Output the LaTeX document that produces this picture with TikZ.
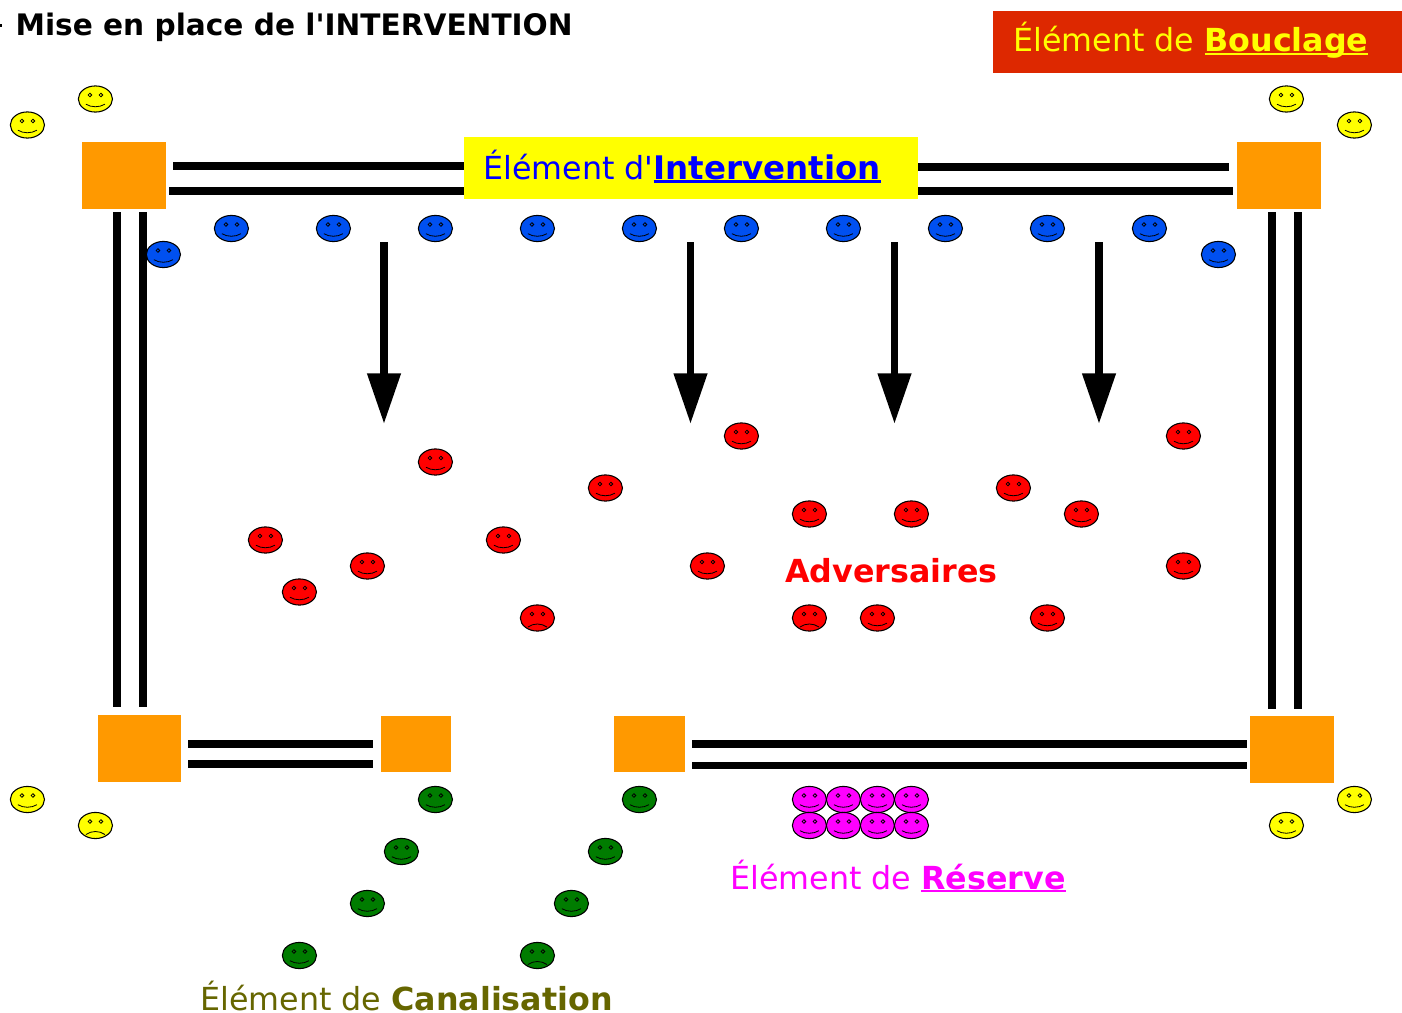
\documentclass[tikz,border=0pt]{standalone}
\usepackage{fontspec}
\newfontfamily\vera{DejaVu Sans}
\usetikzlibrary{shapes.geometric,arrows.meta}
\definecolor{orangebox}{RGB}{255,153,0}
\definecolor{redbox}{RGB}{221,40,0}
\definecolor{faceyellow}{RGB}{255,255,0}
\definecolor{facered}{RGB}{255,0,0}
\definecolor{faceblue}{RGB}{0,80,240}
\definecolor{facegreen}{RGB}{0,124,0}
\definecolor{facemagenta}{RGB}{255,0,255}
\definecolor{olivetext}{RGB}{102,102,0}
\definecolor{bluetext}{RGB}{0,0,255}
\newcommand\ulword[1]{\setbox0\hbox{#1}\rlap{\rule[-.105em]{\wd0}{.075em}}\box0}
\newcommand\fsz[1]{\fontsize{#1}{#1}\selectfont}
\newcommand\smiley[5]{%
  \node[facebody,fill=#4] (#1) at (#2+0.4,#3) {};
  \begin{scope}[shift={(#2+0.4,#3)}]
    \draw[facepart] (-5.5,-4) circle[radius=1.8];
    \draw[facepart] (5.5,-4) circle[radius=1.8];
    \ifx#5s
      \draw[facepart] (-9.5,5.2) .. controls (-4,8.6) and (4,8.6) .. (9.5,5.2);
    \else
      \draw[facepart] (-9.5,9) .. controls (-4,5) and (4,5) .. (9.5,9);
    \fi
  \end{scope}}
\begin{document}
\begin{tikzpicture}[x=0.75pt,y=-0.75pt,
  facebody/.style={shape=ellipse,draw=black,line width=0.8pt,minimum width=25.6pt,minimum height=19.6pt,inner sep=0pt},
  facepart/.style={draw=black,line width=0.6pt},
  barline/.style={draw=black,line width=5.7pt},
  downarrow/.style={draw=black,line width=5.7pt,-{Triangle[length=38pt,width=24pt]}},
  square/.style={fill=orangebox,draw=none,inner sep=0pt},
  label/.style={anchor=base west,inner sep=0pt,font=\vera}]
\clip (0,0) rectangle (1402,1013);
\fill[white] (0,0) rectangle (1402,1013);

% squares
\node[square,minimum width=62.5pt,minimum height=50.2pt,anchor=north west] (tl) at (82,142) {};
\node[square,minimum width=62.5pt,minimum height=50.2pt,anchor=north west] (tr) at (1237,142) {};
\node[square,minimum width=62.5pt,minimum height=50.2pt,anchor=north west] (bl) at (97.7,714.5) {};
\node[square,minimum width=52.7pt,minimum height=42pt,anchor=north west] (bm1) at (380.7,716) {};
\node[square,minimum width=53pt,minimum height=42pt,anchor=north west] (bm2) at (614,716) {};
\node[square,minimum width=62.5pt,minimum height=50.2pt,anchor=north west] (br) at (1250,716) {};

% double lines
\coordinate (t1a) at (173,166); \coordinate (t1b) at (470,166);
\coordinate (t2a) at (169,191); \coordinate (t2b) at (470,191);
\coordinate (t3a) at (910,167); \coordinate (t3b) at (1229,167);
\coordinate (t4a) at (910,191); \coordinate (t4b) at (1233,191);
\coordinate (l1a) at (117,212); \coordinate (l1b) at (117,707);
\coordinate (l2a) at (143,212); \coordinate (l2b) at (143,707);
\coordinate (r1a) at (1272,212); \coordinate (r1b) at (1272,708.5);
\coordinate (r2a) at (1298,212); \coordinate (r2b) at (1298,708.5);
\coordinate (b1a) at (188,744); \coordinate (b1b) at (373,744);
\coordinate (b2a) at (188,764); \coordinate (b2b) at (373,764);
\coordinate (b3a) at (692,744); \coordinate (b3b) at (1247,744);
\coordinate (b4a) at (692,765.5); \coordinate (b4b) at (1247,765.5);
\foreach \n in {t1,t2,t3,t4,l1,l2,r1,r2,b1,b2,b3,b4}
  \draw[barline] (\n a) -- (\n b);

% arrows
\foreach \n/\xx in {1/384,2/690.5,3/894.5,4/1099}{
  \coordinate (ar\n a) at (\xx,242);
  \coordinate (ar\n b) at (\xx,424);
  \draw[downarrow] (ar\n a) -- (ar\n b);
}

% banners
\node[fill=faceyellow,inner sep=0pt,minimum width=340.5pt,minimum height=46.5pt,anchor=north west] (interbox) at (464,137) {};
\node[fill=redbox,inner sep=0pt,minimum width=306.75pt,minimum height=46.5pt,anchor=north west] (bouclbox) at (993,11) {};

% yellow
\smiley{y1}{95}{99}{faceyellow}{s}
\smiley{y2}{27}{125}{faceyellow}{s}
\smiley{y3}{1286}{99}{faceyellow}{s}
\smiley{y4}{1354}{125}{faceyellow}{s}
\smiley{y5}{27}{799.5}{faceyellow}{s}
\smiley{y6}{95}{825.5}{faceyellow}{f}
\smiley{y7}{1354}{799.5}{faceyellow}{s}
\smiley{y8}{1286}{825.5}{faceyellow}{s}

% blue
\smiley{c0}{163}{254.5}{faceblue}{s}
\foreach \xx [count=\i] in {231,333,435,537,639,741,843,945,1047,1149}{
  \smiley{c\i}{\xx}{228.5}{faceblue}{s}
}
\smiley{c11}{1218}{254.5}{faceblue}{s}

% red
\smiley{a1}{741}{436}{facered}{s}
\smiley{a2}{1183}{436}{facered}{s}
\smiley{a3}{435}{462}{facered}{s}
\smiley{a4}{605}{488}{facered}{s}
\smiley{a5}{1013}{488}{facered}{s}
\smiley{a6}{809}{514}{facered}{s}
\smiley{a7}{911}{514}{facered}{s}
\smiley{a8}{1081}{514}{facered}{s}
\smiley{a9}{265}{540}{facered}{s}
\smiley{a10}{503}{540}{facered}{s}
\smiley{a11}{367}{566}{facered}{s}
\smiley{a12}{707}{566}{facered}{s}
\smiley{a13}{1183}{566}{facered}{s}
\smiley{a14}{299}{592}{facered}{s}
\smiley{a15}{537}{618}{facered}{f}
\smiley{a16}{809}{618}{facered}{f}
\smiley{a17}{877}{618}{facered}{s}
\smiley{a18}{1047}{618}{facered}{s}

% green
\smiley{g1}{435}{799.5}{facegreen}{s}
\smiley{g2}{639}{799.5}{facegreen}{s}
\smiley{g3}{401}{851.5}{facegreen}{s}
\smiley{g4}{605}{851.5}{facegreen}{s}
\smiley{g5}{367}{903.5}{facegreen}{s}
\smiley{g6}{571}{903.5}{facegreen}{s}
\smiley{g7}{299}{955.5}{facegreen}{s}
\smiley{g8}{537}{955.5}{facegreen}{f}

% magenta
\foreach \xx [count=\i] in {809,843,877,911}{
  \smiley{m\i}{\xx}{799.5}{facemagenta}{s}
  \smiley{n\i}{\xx}{825.5}{facemagenta}{s}
}

% text
\fill[black] (-1,24.2) rectangle (2,26.8);
\node[label,text=black] (title) at (15.3,36) {\fsz{22.2}\bfseries Mise en place de l'INTERVENTION};
\node[label,text=bluetext] (intertext) at (483,179.5) {\fsz{23.8}Élément d'\ulword{\fsz{24.35}\bfseries Intervention}};
\node[label,text=faceyellow] (boucltext) at (1013,52) {\fsz{23.8}Élément de \ulword{\bfseries Bouclage}};
\node[label,text=facered] (advtext) at (785,582) {\fsz{23.8}\bfseries Adversaires};
\node[label,text=facemagenta] (restext) at (730,889) {\fsz{23.8}Élément de \ulword{\bfseries Réserve}};
\node[label,text=olivetext] (cantext) at (200,1010) {\fsz{23.8}Élément de {\bfseries Canalisation}};
\end{tikzpicture}
\end{document}
